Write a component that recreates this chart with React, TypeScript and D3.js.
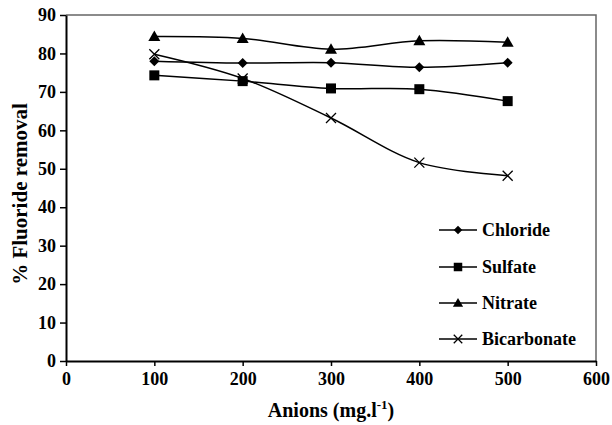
import React, { useEffect, useRef } from "react";
import * as d3 from "d3";

const anions = [100, 200, 300, 400, 500];
const chloride = [78.0, 77.5, 77.6, 76.4, 77.6];
const sulfate = [74.3, 72.8, 70.9, 70.7, 67.6];
const nitrate = [84.4, 83.9, 81.1, 83.3, 82.9];
const bicarbonate = [79.8, 73.5, 63.2, 51.6, 48.2];
const seriesNames = ["Chloride", "Sulfate", "Nitrate", "Bicarbonate"];
const xTicks = [0, 100, 200, 300, 400, 500, 600];
const yTicks = [0, 10, 20, 30, 40, 50, 60, 70, 80, 90];

const FONT = "Liberation Serif, DejaVu Serif, serif";

const App = () => {
  const ref = useRef<SVGSVGElement>(null);

  useEffect(() => {
    const width = 612;
    const height = 425;
    const svg = d3.select(ref.current);
    svg.selectAll("*").remove();

    const x = d3.scaleLinear().domain([0, 600]).range([66, 596]);
    const y = d3.scaleLinear().domain([0, 90]).range([361, 15]);

    // frame (top and right)
    svg
      .append("path")
      .attr("d", `M${x(0)},${y(90)}H${x(600)}V${y(0)}`)
      .attr("fill", "none")
      .attr("stroke", "#666")
      .attr("stroke-width", 1.5);

    // axes
    const yAxis = svg
      .append("g")
      .attr("transform", `translate(${x(0)},0)`)
      .call(d3.axisLeft(y).tickValues(yTicks).tickSize(6).tickSizeOuter(0));
    const xAxis = svg
      .append("g")
      .attr("transform", `translate(0,${y(0)})`)
      .call(d3.axisBottom(x).tickValues(xTicks).tickSize(5).tickSizeOuter(0));

    [xAxis, yAxis].forEach(g => {
      g.attr("font-family", FONT);
      g.select(".domain").attr("stroke", "#000").attr("stroke-width", 2);
      g.selectAll(".tick line").attr("stroke", "#000").attr("stroke-width", 1.5);
      g.selectAll(".tick text")
        .attr("fill", "#000")
        .attr("font-family", FONT)
        .attr("font-weight", "bold")
        .attr("font-size", 18);
    });
    yAxis.selectAll(".tick text").attr("x", -10);
    xAxis.selectAll(".tick text").attr("y", 11);

    // axis titles
    svg
      .append("text")
      .attr("transform", `translate(27,194) rotate(-90)`)
      .attr("text-anchor", "middle")
      .attr("font-family", FONT)
      .attr("font-weight", "bold")
      .attr("font-size", 21)
      .text("% Fluoride removal");

    const xt = svg
      .append("text")
      .attr("x", 331)
      .attr("y", 417)
      .attr("text-anchor", "middle")
      .attr("font-family", FONT)
      .attr("font-weight", "bold")
      .attr("font-size", 20);
    xt.append("tspan").text("Anions (mg.l");
    xt.append("tspan").attr("dy", -8).attr("font-size", 13).text("-1");
    xt.append("tspan").attr("dy", 8).text(")");

    const allSeries = [chloride, sulfate, nitrate, bicarbonate];
    const line = d3
      .line<number>()
      .x((d, i) => x(anions[i]))
      .y(d => y(d))
      .curve(d3.curveCatmullRom.alpha(0.5));

    const drawMarker = (g: any, k: number, cx: number, cy: number, s: number) => {
      if (k === 0) {
        g.append("path")
          .attr("d", `M${cx},${cy - 5 * s}L${cx + 5 * s},${cy}L${cx},${cy + 5 * s}L${cx - 5 * s},${cy}Z`)
          .attr("fill", "#000");
      } else if (k === 1) {
        g.append("rect")
          .attr("x", cx - 5 * s)
          .attr("y", cy - 5 * s)
          .attr("width", 10 * s)
          .attr("height", 10 * s)
          .attr("fill", "#000");
      } else if (k === 2) {
        g.append("path")
          .attr("d", `M${cx},${cy - 6 * s}L${cx + 6 * s},${cy + 4.5 * s}L${cx - 6 * s},${cy + 4.5 * s}Z`)
          .attr("fill", "#000");
      } else {
        g.append("path")
          .attr(
            "d",
            `M${cx - 5 * s},${cy - 5 * s}L${cx + 5 * s},${cy + 5 * s}M${cx + 5 * s},${cy - 5 * s}L${cx - 5 * s},${cy + 5 * s}`
          )
          .attr("stroke", "#000")
          .attr("stroke-width", 1.3);
      }
    };

    allSeries.forEach((vals, k) => {
      svg
        .append("path")
        .datum(vals)
        .attr("d", line)
        .attr("fill", "none")
        .attr("stroke", "#000")
        .attr("stroke-width", 1.5);
      const g = svg.append("g");
      vals.forEach((v, i) => drawMarker(g, k, x(anions[i]), y(v), 1));
    });

    // legend
    const legendY = [230, 267, 303, 339];
    seriesNames.forEach((name, k) => {
      const ly = legendY[k];
      svg
        .append("line")
        .attr("x1", 439)
        .attr("x2", 477)
        .attr("y1", ly)
        .attr("y2", ly)
        .attr("stroke", "#000")
        .attr("stroke-width", 1.5);
      drawMarker(svg.append("g"), k, 458, ly, 0.85);
      svg
        .append("text")
        .attr("x", 482)
        .attr("y", ly + 6)
        .attr("font-family", FONT)
        .attr("font-weight", "bold")
        .attr("font-size", 18)
        .text(name);
    });

    svg.attr("width", width).attr("height", height);
  }, []);

  return (
    <svg
      ref={ref}
      width={612}
      height={425}
      style={{ position: "absolute", left: 0, top: 0, background: "#fff" }}
    />
  );
};

export default App;
